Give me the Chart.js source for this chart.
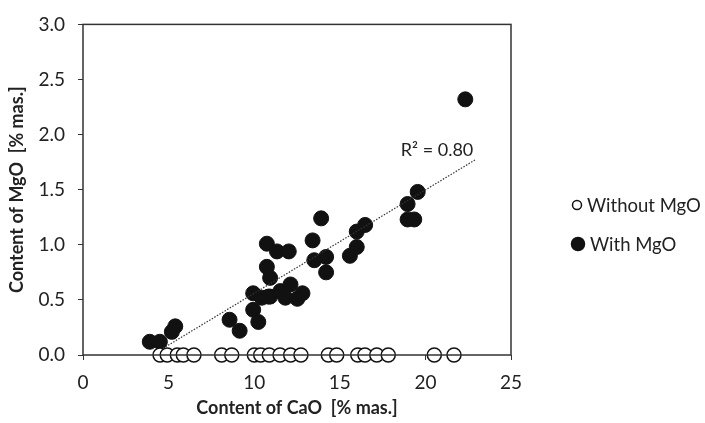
<!DOCTYPE html>
<html>
<head>
<meta charset="utf-8">
<script src="https://cdn.jsdelivr.net/npm/chart.js@4.4.1/dist/chart.umd.min.js"></script>
<style>
  html, body { margin: 0; padding: 0; background: #fff; }
  #wrap { width: 705px; height: 423px; }
</style>
</head>
<body>
<div id="wrap"><canvas id="grafico" width="705" height="423"></canvas></div>
<script>
// CaO / MgO contents
const conMgO_x = [3.90, 4.49, 5.19, 5.39, 8.56, 9.15, 9.94, 10.24, 9.94, 10.44, 10.93, 10.74, 11.33, 12.02, 10.74, 10.93,
                  10.83, 11.53, 11.82, 12.12, 12.52, 12.82, 13.91, 13.41, 13.51, 14.20, 14.20, 15.59, 15.99, 15.99, 16.48,
                  18.96, 19.55, 18.96, 19.35, 22.33];
const conMgO_y = [0.12, 0.12, 0.21, 0.26, 0.32, 0.22, 0.41, 0.30, 0.56, 0.52, 0.53, 1.01, 0.94, 0.94, 0.80, 0.70,
                  0.53, 0.58, 0.52, 0.64, 0.51, 0.56, 1.24, 1.04, 0.86, 0.89, 0.75, 0.90, 0.98, 1.12, 1.18,
                  1.37, 1.48, 1.23, 1.23, 2.32];

const sinMgO_x = [4.50, 4.92, 5.51, 5.86, 6.48, 8.10, 8.69, 10.01, 10.38, 10.88, 11.51, 12.13, 12.73, 14.33, 14.82,
                  16.05, 16.47, 17.16, 17.83, 20.52, 21.67];

// linea de tendencia (extremos)
const tendX = [4.67, 22.9];
const tendY = [0.06, 1.77];
const textoR2 = "R² = 0.80";
const posR2 = [20.68, 1.86];

const ticksX = [0, 5, 10, 15, 20, 25];
const ticksY = [0, 0.5, 1, 1.5, 2, 2.5, 3];

const fuente = "Lato, 'Open Sans', sans-serif";

function armarPuntos(xs, ys) {
    let pts = [];
    for (let i = 0; i < xs.length; i++) {
        pts = [...pts, { x: xs[i], y: ys ? ys[i] : 0 }];
    }
    return pts;
}

// marco, etiqueta R2 y leyenda propia
const extras = {
    id: "extras",
    afterDatasetsDraw(chart) {
        const ctx = chart.ctx;
        const a = chart.chartArea;
        const sx = chart.scales.x, sy = chart.scales.y;
        ctx.save();
        ctx.strokeStyle = "#333";
        ctx.lineWidth = 1.5;
        ctx.strokeRect(a.left, a.top, a.right - a.left, a.bottom - a.top);

        ctx.fillStyle = "#222";
        ctx.font = "18px " + fuente;
        ctx.textAlign = "center";
        ctx.textBaseline = "middle";
        ctx.fillText(textoR2, sx.getPixelForValue(posR2[0]), sy.getPixelForValue(posR2[1]));

        // leyenda
        const items = [
            { texto: chart.data.datasets[0].label, ds: chart.data.datasets[0], y: 205, cx: 577, r: 4.5, tx: 587 },
            { texto: chart.data.datasets[1].label, ds: chart.data.datasets[1], y: 244, cx: 578, r: 6.5, tx: 590 }
        ];
        ctx.textAlign = "left";
        ctx.font = "18.5px " + fuente;
        for (let it of items) {
            ctx.beginPath();
            ctx.arc(it.cx, it.y, it.r, 0, Math.PI * 2);
            ctx.fillStyle = it.ds.backgroundColor;
            ctx.fill();
            ctx.lineWidth = 1.5;
            ctx.strokeStyle = "#111";
            ctx.stroke();
            ctx.fillStyle = "#222";
            ctx.fillText(it.texto, it.tx, it.y + 1);
        }
        ctx.restore();
    }
};

new Chart("grafico", {
    type: "scatter",
    data: {
        datasets: [
            {
                label: "Without MgO",
                data: armarPuntos(sinMgO_x, null),
                backgroundColor: "#fff",
                borderColor: "#111",
                borderWidth: 1.5,
                pointRadius: 7,
                order: 2
            },
            {
                label: "With MgO",
                data: armarPuntos(conMgO_x, conMgO_y),
                backgroundColor: "#111",
                borderColor: "#111",
                borderWidth: 1,
                pointRadius: 7.5,
                order: 3
            },
            {
                label: "tendencia",
                type: "line",
                data: armarPuntos(tendX, tendY),
                borderColor: "#333",
                borderWidth: 1.2,
                borderDash: [1.5, 1.5],
                pointRadius: 0,
                fill: false,
                order: 1
            }
        ]
    },
    options: {
        responsive: false,
        animation: false,
        clip: false,
        layout: { padding: { top: 20, right: 194, left: 0, bottom: 0 } },
        plugins: { legend: { display: false }, tooltip: { enabled: false } },
        scales: {
            x: {
                type: "linear",
                min: 0, max: 25,
                afterBuildTicks: s => { s.ticks = ticksX.map(v => ({ value: v })); },
                afterFit: s => { s.height = 68; },
                grid: { display: true, drawOnChartArea: false, drawTicks: true, tickLength: 5, color: "#333", tickColor: "#333" },
                border: { display: false },
                ticks: { color: "#222", font: { family: fuente, size: 19 }, padding: 11 },
                title: { display: true, text: "Content of CaO  [% mas.]", color: "#222",
                         font: { family: fuente, size: 18, weight: "bold" }, padding: { top: 6 } }
            },
            y: {
                type: "linear",
                min: 0, max: 3,
                afterBuildTicks: s => { s.ticks = ticksY.map(v => ({ value: v })); },
                afterFit: s => { s.width = 83; },
                grid: { display: true, drawOnChartArea: false, drawTicks: true, tickLength: 5, color: "#333", tickColor: "#333" },
                border: { display: false },
                ticks: { color: "#222", font: { family: fuente, size: 19 }, padding: 13,
                         callback: v => Number(v).toFixed(1) },
                title: { display: true, text: "Content of MgO  [% mas.]", color: "#222",
                         font: { family: fuente, size: 18, weight: "bold" }, padding: { top: 6, bottom: 4 } }
            }
        }
    },
    plugins: [extras]
});
</script>
</body>
</html>
